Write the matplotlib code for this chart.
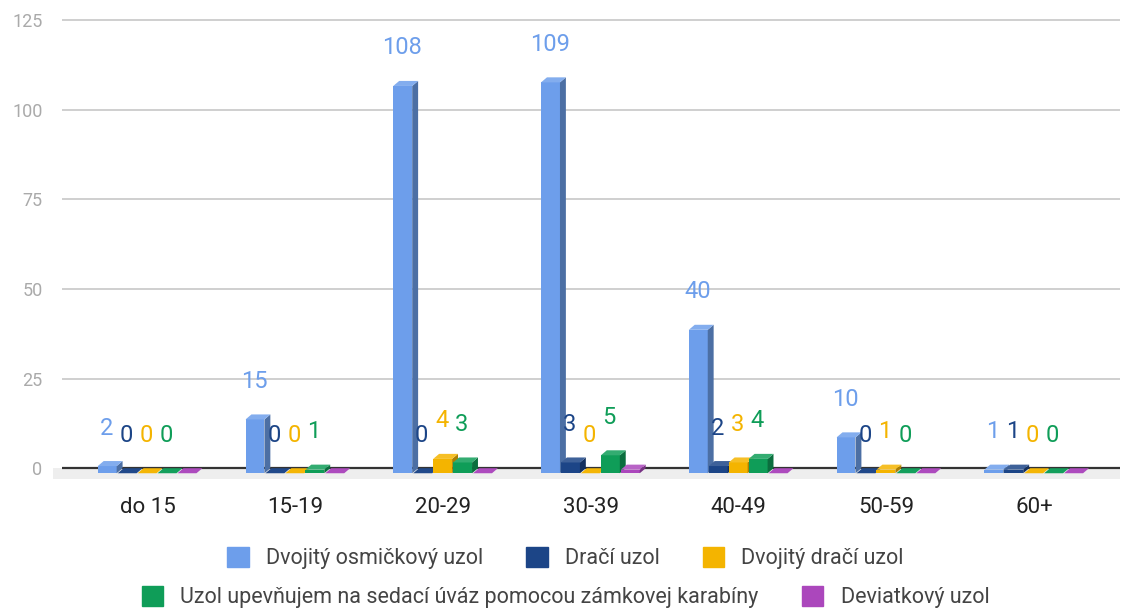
import matplotlib.pyplot as plt
from matplotlib.patches import Polygon, Patch
import matplotlib.colors as mcolors
import numpy as np

plt.rcParams['font.family'] = ['Roboto', 'DejaVu Sans']

categories = ['do 15', '15-19', '20-29', '30-39', '40-49', '50-59', '60+']
series_names = ['Dvojitý osmičkový uzol', 'Dračí uzol', 'Dvojitý dračí uzol',
                'Uzol upevňujem na sedací úváz pomocou zámkovej karabíny', 'Deviatkový uzol']
osmickovy = [2, 15, 108, 109, 40, 10, 1]
draci = [0, 0, 0, 3, 2, 0, 1]
dvojity_draci = [0, 0, 4, 0, 3, 1, 0]
karabina = [0, 1, 3, 5, 4, 0, 0]
deviatkovy = [0, 0, 0, 1, 0, 0, 0]
colors = ['#6d9eeb', '#1c4587', '#f4b400', '#0f9d58', '#ab47bc']
show_labels = [True, True, True, True, False]

data = [osmickovy, draci, dvojity_draci, karabina, deviatkovy]

fig = plt.figure(figsize=(11.31, 6.09), dpi=100)
ax = fig.add_axes([62 / 1131, 0.2135, (1120 - 62) / 1131, 0.7596])
ax.set_xlim(-0.58, 6.58)
ax.set_ylim(-3, 126)

# grid and floor
for yv in [25, 50, 75, 100, 125]:
    ax.axhline(yv, color='#cccccc', lw=1.3, zorder=0)
ax.fill_between([-0.64, 6.58], -2.9, 0, color='#eeeeee', lw=0, zorder=0, clip_on=False)
ax.axhline(0, color='#333333', lw=1.6, zorder=1)

w = 0.128
step = 0.135
start = -0.338
dx = 0.04
dy = 1.4

x = np.arange(len(categories))
for i, (vals, c) in enumerate(zip(data, colors)):
    base = np.array(mcolors.to_rgb(c))
    dark = base * 0.7
    light = base + (1 - base) * 0.15
    x0 = x + start + i * step
    ax.bar(x0, vals, width=w, bottom=-dy, align='edge', color=c, lw=0, zorder=2)
    for xl, v in zip(x0, vals):
        top = Polygon([(xl, v - dy), (xl + w, v - dy), (xl + w + dx, v), (xl + dx, v)],
                      closed=True, color=light if v > 0 else base * 0.85 + 0.15 * light, lw=0, zorder=2)
        side = Polygon([(xl + w, -dy), (xl + w + dx, 0), (xl + w + dx, v), (xl + w, v - dy)],
                       closed=True, color=dark, lw=0, zorder=2)
        ax.add_patch(side)
        ax.add_patch(top)
        if show_labels[i]:
            ax.annotate(str(v), (xl + w / 2, v), xytext=(-1, 33), textcoords='offset pixels',
                        ha='center', va='center', color=c, fontsize=17, zorder=3)

ax.set_xticks(x)
ax.set_xticklabels(categories, fontsize=16, color='#222222')
ax.set_yticks([0, 25, 50, 75, 100, 125])
ax.tick_params(axis='y', length=0, pad=14, labelsize=13, labelcolor='#aaaaaa')
ax.tick_params(axis='x', length=0, pad=13)
for s in ax.spines.values():
    s.set_visible(False)

handles = [Patch(facecolor=c, edgecolor=c) for c in colors]
leg_kw = dict(loc='center', frameon=False, fontsize=15.5, handlelength=1.0, handleheight=1.1,
              handletextpad=0.8, columnspacing=2.0, labelcolor='#444444')
fig.legend(handles[:3], series_names[:3], ncol=3, bbox_to_anchor=(0.5, 1 - 558 / 609), **leg_kw)
fig.legend(handles[3:], series_names[3:], ncol=2, bbox_to_anchor=(0.5, 1 - 597 / 609), **leg_kw)

fig.savefig('out.png', dpi=100)
